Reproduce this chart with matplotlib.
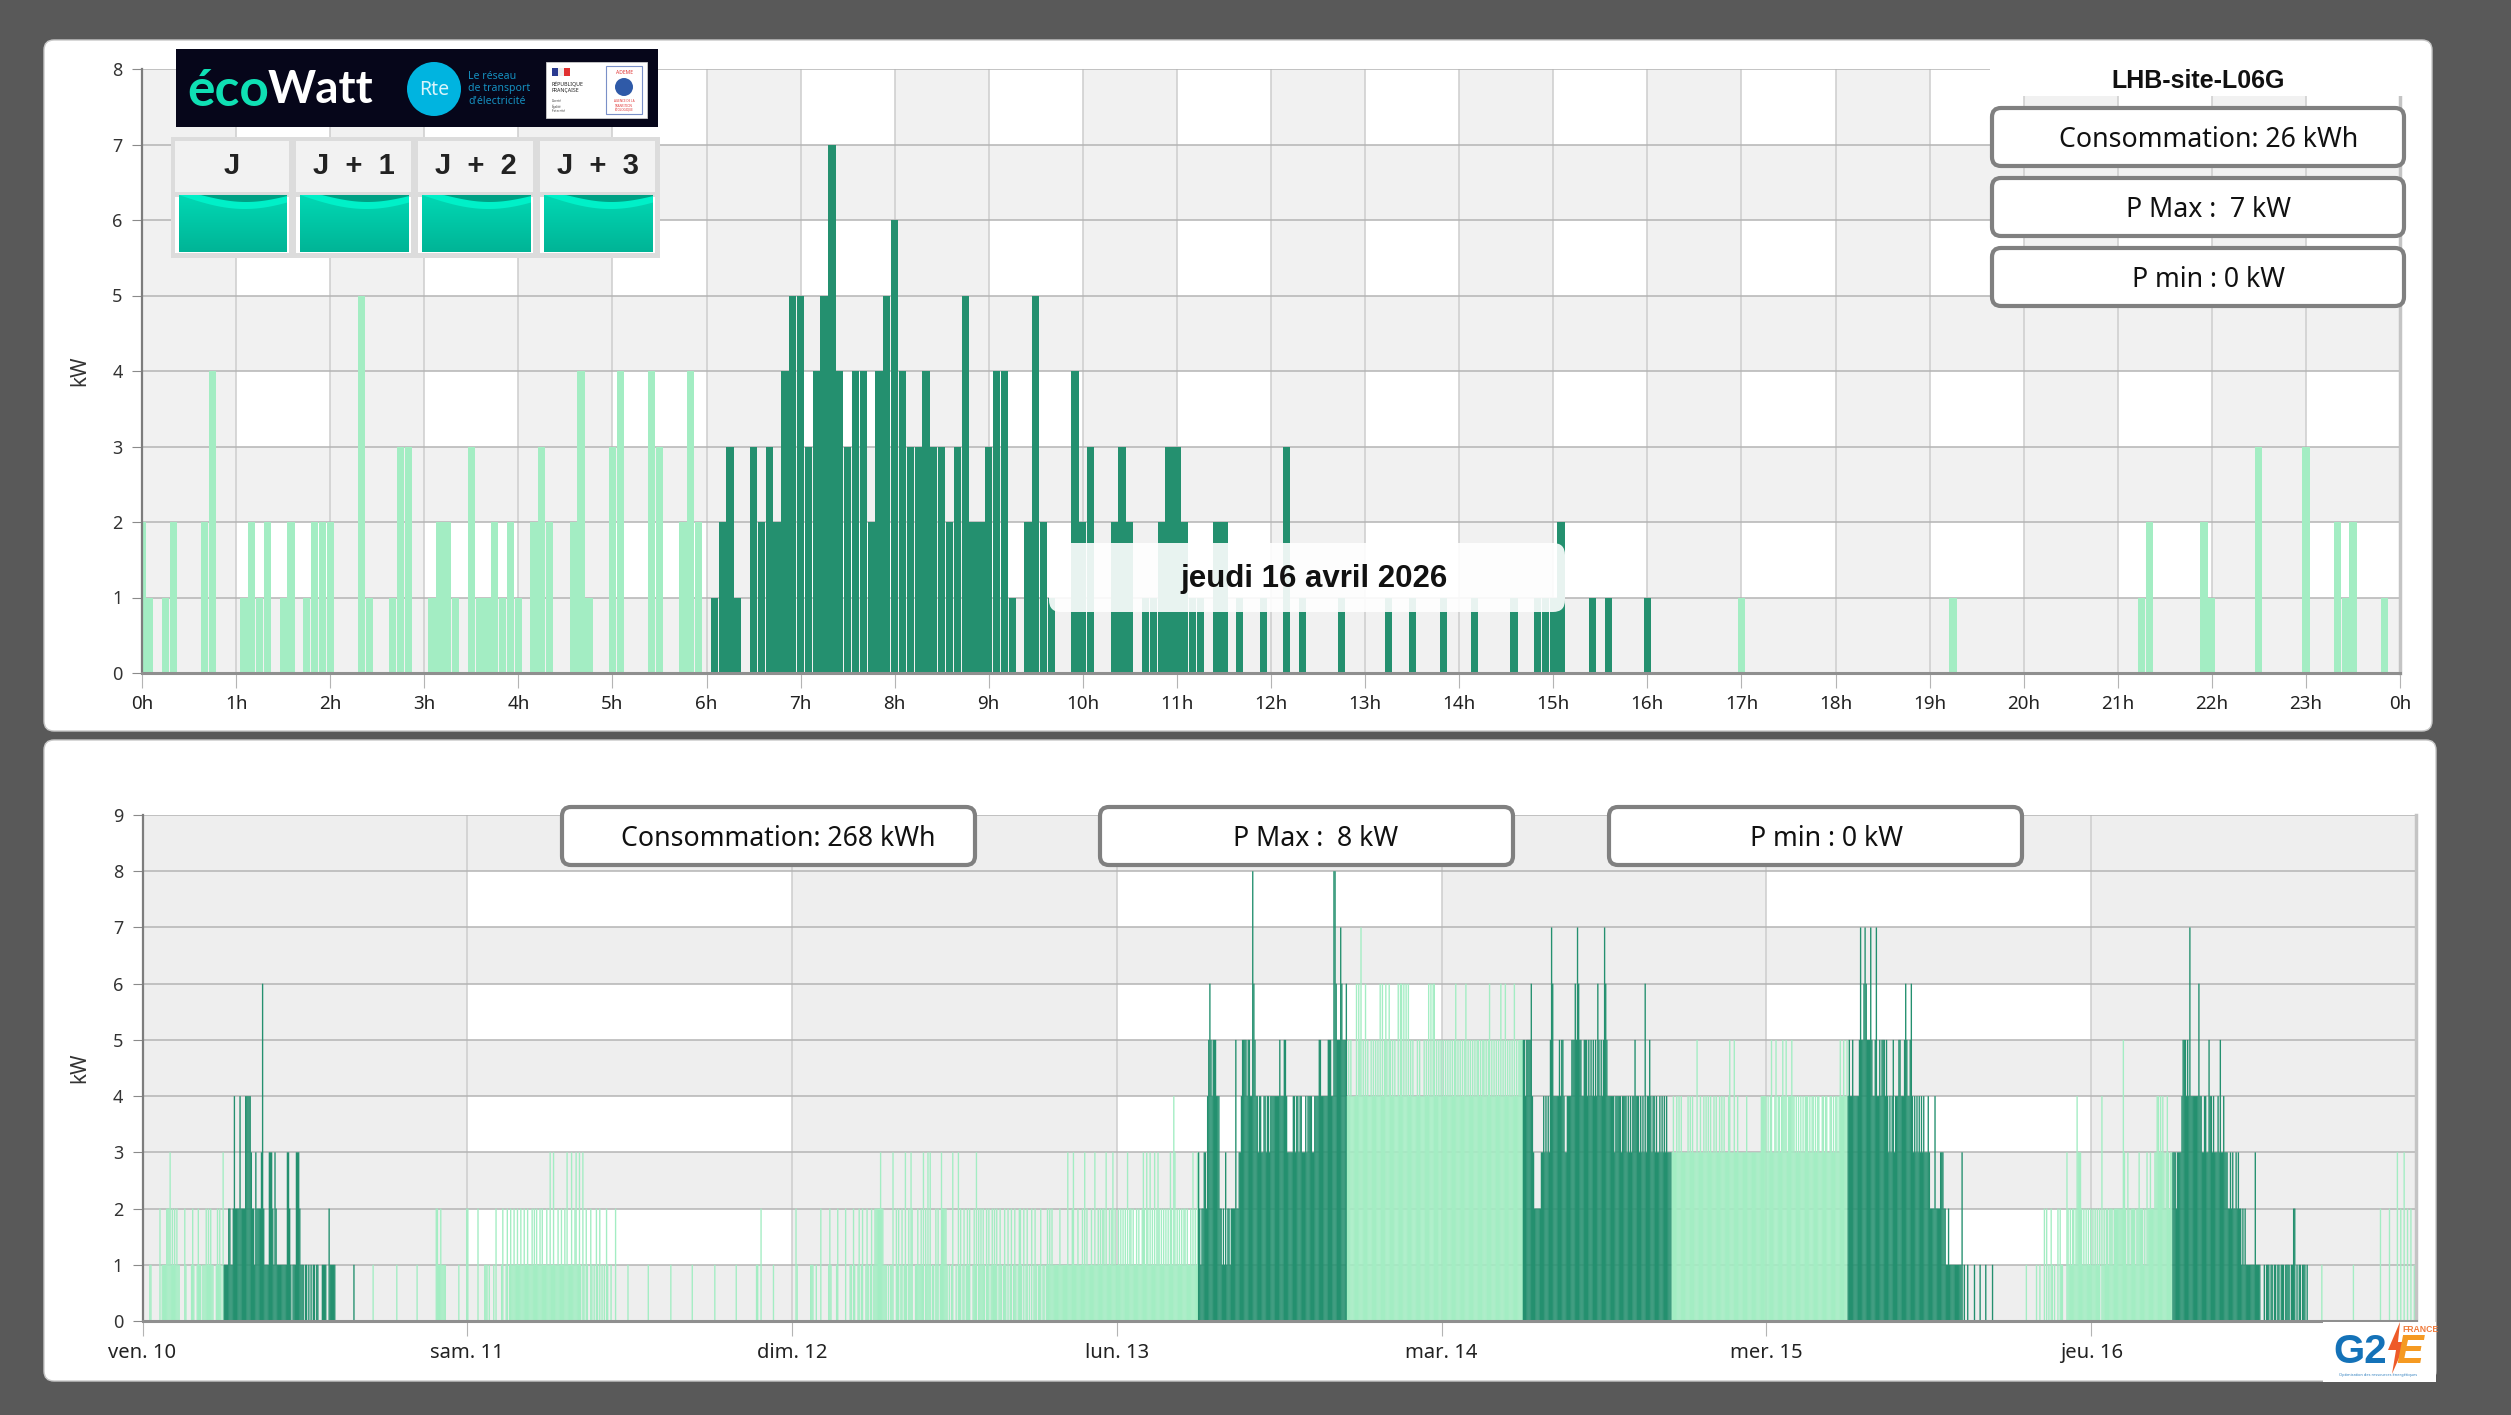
import numpy as np
import matplotlib
matplotlib.use('Agg')
import matplotlib.pyplot as plt
from matplotlib.patches import FancyBboxPatch, Rectangle, Circle, Polygon

plt.rcParams['font.family'] = ['Noto Sans', 'DejaVu Sans']

W, H = 2511, 1415

DARK = '#24906f'
LIGHT = '#a3edc3'
GREY_TOP = '#f1f1f1'
GREY_BOT = '#eeeeee'
PAGE = '#595959'
BOLD = 'Liberation Sans'

HOUR_LABELS = [f'{h}h' for h in range(24)] + ['0h']
DAY_LABELS = ['ven. 10', 'sam. 11', 'dim. 12', 'lun. 13', 'mar. 14', 'mer. 15', 'jeu. 16']
DAY_IS_WORKDAY = [True, False, False, True, True, True, True]
PEAK_FIRST_SLOT = 72
PEAK_LAST_SLOT = 204

# jeudi 16 avril, slot (5 min) -> kW, only the non zero ones
today_slots = [0, 1, 3, 4, 8, 9, 13, 14, 15, 16, 18, 19, 21, 22, 23, 24, 28, 29, 32, 33, 34, 37, 38, 39, 40,
               42, 43, 44, 45, 46, 47, 48, 50, 51, 52, 55, 56, 57, 60, 61, 65, 66, 69, 70, 71,
               73, 74, 75, 76, 78, 79, 80, 81, 82, 83, 84, 85, 86, 87, 88, 89, 90, 91, 92, 93, 94, 95, 96, 97,
               98, 99, 100, 101, 102, 103, 104, 105, 106, 107, 108, 109, 110, 111, 113, 114, 115, 116,
               119, 120, 121, 124, 125, 126, 128, 129, 130, 131, 132, 133, 134, 135, 137, 138, 140, 143,
               146, 148, 153, 159, 162, 166, 170, 175, 178, 179, 180, 181, 185, 187, 192,
               204, 231, 255, 256, 263, 264, 270, 276, 280, 281, 282, 286]
today_kw = [2, 1, 1, 2, 2, 4, 1, 2, 1, 2, 1, 2, 1, 2, 2, 2, 5, 1, 1, 3, 3, 1, 2, 2, 1,
            3, 1, 1, 2, 1, 2, 1, 2, 3, 2, 2, 4, 1, 3, 4, 4, 3, 2, 4, 2,
            1, 2, 3, 1, 3, 2, 3, 2, 4, 5, 5, 3, 4, 5, 7, 4, 3, 4, 4, 2, 4, 5, 6, 4,
            3, 3, 4, 3, 3, 2, 3, 5, 2, 2, 3, 4, 4, 1, 2, 5, 2, 1,
            4, 2, 3, 2, 3, 2, 1, 1, 2, 3, 3, 2, 1, 1, 2, 2, 1, 1,
            3, 1, 1, 1, 1, 1, 1, 1, 1, 1, 1, 2, 1, 1, 1,
            1, 1, 1, 2, 2, 1, 3, 3, 2, 1, 2, 1]

# one group per hour, 12 digits = kW of each 5 min slot
ven_10 = """000000110000 000201111222 312121211000 021000012100 121101112121 211001212103
111122112422 224222244444 322132222362 111133321321 111111113321 011133321110
110101011011 000111100211 111000000000 000000010000 000000000000 100000000000
000000000100 000000000000 000100000000 000000002211 211110000000 000010000002"""
sam_11 = """200000000200 000111010001 020000120012 012112112112 112112111212 121121211121
131131112112 112131113112 311310310210 021010210201 010210010002 000000000010
000000000000 000010000000 000000000000 100000000000 000000010000 000000000000
000100000000 000000000010 000000000000 000011002000 000000010000 000000000000"""
dim_12 = """000210000000 000011100100 020000001210 000120000002 000110210012 012001210120
122222322111 010113002120 120131021320 011211213021 313011021201 322221010130
010312012012 120012130212 121021201212 120121012102 012012101221 020120102012
101120110121 212111111211 111131112311 121112131211 121131121212 213112123121"""
lun_13 = """121212121312 212112121123 213213121312 321212121213 214312121212 212112131213
321223324565 455544422121 312212222522 334555545544 865443443344 344344444444
544455433333 443443443334 344443344445 544444455544 886555765556 454544446465
745464544545 454546464565 465454544646 646464645454 445454445454 646466454545"""
mar_14 = """454545454545 645454545645 454545455454 554545645454 545464546454 545464545555
554555564322 222233434343 576444445455 433444455565 765544555454 545454654545
765444444344 444344443434 344544434343 634454344343 343434343333 343343434333
334343433353 343343434343 343433434343 334533353343 333333433333 333333344444"""
mer_15 = """343453345344 345445344454 434343434344 434344343443 344344334434 344345445445
454454444457 556765557544 574454555454 343453444554 445654456434 343434343334
322224222233 322112111111 111113010010 000010000100 001000001000 000000000000
000000000000 001000000001 001000202010 210100202110 003212122124 333212121212"""
jeu_16 = """121212120412 122122212222 222253213212 222122322212 132232223344 343432343233
333233334555 454744444446 443344335443 433343533433 322323223232 212121111111
131111000101 110110110110 111011110112 201011011101 000000000000 100000000000
000000000000 000010000000 000000000000 000020000000 200000030020 030020020010"""
week_days = [ven_10, sam_11, dim_12, lun_13, mar_14, mer_15, jeu_16]


def px_axes(fig, x0, y0, x1, y1, z):
    ax = fig.add_axes([x0 / W, 1 - y1 / H, (x1 - x0) / W, (y1 - y0) / H], zorder=z)
    return ax


def rounded(ax, x0, y0, x1, y1, r, **kw):
    p = FancyBboxPatch((x0, y0), x1 - x0, y1 - y0, boxstyle=f'round,pad=0,rounding_size={r}', **kw)
    ax.add_patch(p)
    return p


def style_plot(ax, grey, n_x, n_y, x_step):
    # alternating bands, the x ones only show on every second y band
    ax.set_facecolor('white')
    for i in range(n_y):
        if i % 2 == 0:
            ax.axhspan(i, i + 1, color=grey, lw=0, zorder=0)
        else:
            for j in range(0, n_x, 2):
                ax.axvspan(j * x_step, (j + 1) * x_step, ymin=i / n_y, ymax=(i + 1) / n_y, color=grey, lw=0, zorder=0)
    ax.set_ylim(0, n_y)
    ax.set_xlim(0, n_x * x_step)
    ax.set_yticks(range(n_y + 1))
    ax.grid(axis='y', color='#b4b4b4', lw=1.1, zorder=1)
    ax.grid(axis='x', color='#cdcdcd', lw=1.1, zorder=1)
    ax.set_axisbelow(True)
    ax.spines['top'].set_visible(False)
    ax.spines['right'].set_color('#c4c4c4')
    ax.spines['right'].set_linewidth(2.5)
    ax.spines['left'].set_color('#7d7d7d')
    ax.spines['left'].set_linewidth(1.6)
    ax.spines['bottom'].set_color('#8f8f8f')
    ax.spines['bottom'].set_linewidth(2.2)
    ax.tick_params(axis='y', length=7, color='#8a8a8a', labelsize=13, labelcolor='#333333', pad=7)
    ax.tick_params(axis='x', length=11, color='#b4b4b4', labelcolor='#222222', pad=5)


fig = plt.figure(figsize=(W / 100, H / 100), dpi=100, facecolor=PAGE)

back = px_axes(fig, 0, 0, W, H, 0)
back.set_xlim(0, W)
back.set_ylim(H, 0)
back.axis('off')
rounded(back, 44, 40, 2432, 731, 10, fc='white', ec='#c8c8c8', lw=1)
rounded(back, 44, 740, 2436, 1381, 10, fc='white', ec='#c8c8c8', lw=1)

# --- top chart, one day
ax1 = px_axes(fig, 142, 69, 2400, 673, 1)
style_plot(ax1, GREY_TOP, 24, 8, 1)
today = np.zeros(288)
today[today_slots] = today_kw
slots = np.arange(288)
colors1 = [DARK if PEAK_FIRST_SLOT <= s < PEAK_LAST_SLOT else LIGHT for s in slots]
ax1.bar(slots / 12, today, width=0.92 / 12, color=colors1, lw=0, zorder=2)
ax1.set_xticks(range(25))
ax1.set_xticklabels(HOUR_LABELS, fontsize=13.5)
ax1.set_ylabel('kW', fontsize=15, color='#333333', labelpad=16)

# --- bottom chart, seven days
ax2 = px_axes(fig, 142.5, 815, 2416, 1321, 1)
style_plot(ax2, GREY_BOT, 7, 9, 1)
xs, ys, cs = [], [], []
for d, txt in enumerate(week_days):
    values = [int(c) for c in txt.replace('\n', '').replace(' ', '')]
    assert len(values) == 288, (d, len(values))
    for s, v in enumerate(values):
        if v > 0:
            xs.append(d + (s + 0.5) / 288)
            ys.append(v)
            peak = DAY_IS_WORKDAY[d] and PEAK_FIRST_SLOT <= s < PEAK_LAST_SLOT
            cs.append(DARK if peak else LIGHT)
week_bars = ax2.bar(xs, ys, width=1.2 / 288, color=cs, lw=0, zorder=2)
for b in week_bars:
    b.set_snap(False)
ax2.set_xticks(range(7))
ax2.set_xticklabels(DAY_LABELS, fontsize=14.5)
ax2.set_ylabel('kW', fontsize=15, color='#333333', labelpad=16)

# --- boxes and logos on top
fg = px_axes(fig, 0, 0, W, H, 5)
fg.set_xlim(0, W)
fg.set_ylim(H, 0)
fg.axis('off')
fg.patch.set_alpha(0)

# date tooltip
rounded(fg, 1049, 543, 1565, 612, 12, fc='white', ec='none', alpha=0.9)
fg.text(1314, 579, 'jeudi 16 avril 2026', ha='center', va='center', fontsize=22.5, fontweight='bold',
        family=BOLD, color='#111111')

# site title and stat boxes, top right
fg.add_patch(Rectangle((1990, 66), 415, 30, fc='white', ec='none'))
rounded(fg, 2380, 70, 2405, 96, 8, fc='white', ec='none')
fg.text(2198, 81, 'LHB-site-L06G', ha='center', va='center', fontsize=18, fontweight='bold', family=BOLD, color='#111111')
top_boxes = [(108, 166, 'Consommation: 26 kWh', 2209), (178, 236, 'P Max :  7 kW', 2209), (248, 306, 'P min : 0 kW', 2209)]
for y0, y1, label, xt in top_boxes:
    rounded(fg, 1992, y0, 2404, y1, 9, fc='white', ec='#808080', lw=3)
    fg.text(xt, (y0 + y1) / 2 + 3, label, ha='center', va='center', fontsize=19.2, color='#111111')

bottom_boxes = [(562, 975, 'Consommation: 268 kWh', 778), (1100, 1513, 'P Max :  8 kW', 1316), (1609, 2022, 'P min : 0 kW', 1826)]
for x0, x1, label, xt in bottom_boxes:
    rounded(fg, x0, 807, x1, 865, 9, fc='white', ec='#808080', lw=3)
    fg.text(xt, 839, label, ha='center', va='center', fontsize=19.2, color='#111111')

# ecowatt banner
fg.add_patch(Rectangle((176, 49), 482, 78, fc='#06061a', ec='none'))
fg.text(187, 92, 'éco', ha='left', va='center', fontsize=37, fontweight='bold', family='Lato', color='#0fe0b4')
fg.text(268, 90, 'Watt', ha='left', va='center', fontsize=33, fontweight='bold', family='Lato', color='white')
fg.add_patch(Circle((434, 89), 27, fc='#00b4e0', ec='none'))
fg.text(434, 90, 'Rte', ha='center', va='center', fontsize=14, color='#d8f4fb')
fg.text(468, 89, 'Le réseau\nde transport\nd\'électricité', ha='left', va='center', fontsize=7.6, color='#1590c0', linespacing=1.15)
fg.add_patch(Rectangle((546, 62), 101, 56, fc='white', ec='#cccccc', lw=0.6))
fg.add_patch(Rectangle((552, 68), 6, 8, fc='#2a3a90', ec='none'))
fg.add_patch(Rectangle((558, 68), 6, 8, fc='#eeeeee', ec='none'))
fg.add_patch(Rectangle((564, 68), 6, 8, fc='#e03030', ec='none'))
fg.text(552, 87, 'RÉPUBLIQUE\nFRANÇAISE', ha='left', va='center', fontsize=3.8, color='#222222', fontweight='bold')
fg.text(552, 106, 'Liberté\nÉgalité\nFraternité', ha='left', va='center', fontsize=2.2, color='#444444')
fg.add_patch(Rectangle((606, 66), 36, 48, fc='white', ec='#7a90c8', lw=0.8))
fg.text(624, 72, 'ADEME', ha='center', va='center', fontsize=3.6, color='#e03030', fontweight='bold')
fg.add_patch(Circle((624, 87), 9, fc='#2f5aa8', ec='none'))
fg.text(624, 106, 'AGENCE DE LA\nTRANSITION\nÉCOLOGIQUE', ha='center', va='center', fontsize=2.2, color='#e03030')

# J, J+1 ... tempo table
grid_x = [171, 292, 414, 536, 658]
labels_j = ['J', 'J  +  1', 'J  +  2', 'J  +  3']
fg.add_patch(Rectangle((171, 137), 489, 121, fc='#dcdcdc', ec='none'))
gradient = np.linspace(0, 1, 64).reshape(-1, 1)
cmap = matplotlib.colors.LinearSegmentedColormap.from_list('teal', ['#00d8b4', '#00b496'])
for k in range(4):
    x0 = grid_x[k] + 4
    x1 = grid_x[k + 1] - 3
    fg.add_patch(Rectangle((x0, 141), x1 - x0, 51, fc='#f2f2f2', ec='none'))
    fg.add_patch(Rectangle((x0, 197), x1 - x0, 56, fc='white', ec='none'))
    fg.text((x0 + x1) / 2, 166, labels_j[k], ha='center', va='center', fontsize=21, family=BOLD,
            color='#222222', fontweight='bold')
    wx0, wx1 = x0 + 4, x1 - 2
    wy = 195
    fg.imshow(gradient, extent=(wx0, wx1, 252, wy), cmap=cmap, aspect='auto', zorder=3)
    t = np.linspace(0, 1, 40)
    # wave drawn on each tile: light stripe with a darker cap at top right
    lower = wy + 14 * np.sin(t * np.pi * 0.82)
    upper = wy + 7 * np.sin(np.clip((t - 0.2) / 0.8, 0, 1) * np.pi * 0.95)
    fg.add_patch(Polygon(np.column_stack([wx0 + t * (wx1 - wx0), lower]).tolist()
                         + [[wx1, wy], [wx0, wy]], fc='#00f0c8', ec='none', zorder=4))
    fg.add_patch(Polygon(np.column_stack([wx0 + t * (wx1 - wx0), upper]).tolist()
                         + [[wx1, wy], [wx0, wy]], fc='#00a084', ec='none', zorder=5))
fg.set_xlim(0, W)
fg.set_ylim(H, 0)

# G2E logo
fg.add_patch(Rectangle((2323, 1322), 113, 60, fc='white', ec='none'))
fg.text(2333, 1352, 'G2', ha='left', va='center', fontsize=29, fontweight='bold', family=BOLD, color='#1472b8')
fg.text(2396, 1352, 'E', ha='left', va='center', fontsize=29, fontweight='bold', style='italic', family=BOLD, color='#f59a22')
fg.add_patch(Polygon([[2400, 1322], [2388, 1350], [2396, 1350], [2392, 1374], [2406, 1342], [2398, 1342]], fc='#ee5a28', ec='none'))
fg.text(2402, 1330, 'FRANCE', ha='left', va='center', fontsize=6.2, fontweight='bold', family=BOLD, color='#f07a3a')
fg.text(2378, 1375, 'Optimisation des ressources énergétiques', ha='center', va='center', fontsize=2.8, color='#3080c0')

fig.savefig('out.png', dpi=100, facecolor=PAGE)
